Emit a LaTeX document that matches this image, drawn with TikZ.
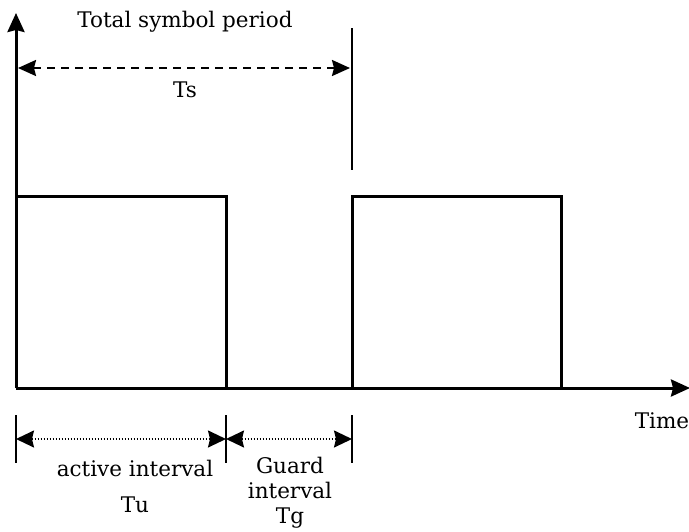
\documentclass[tikz,border=0pt]{standalone}
\usepackage{fontspec}
\setmainfont{DejaVu Serif}
\usetikzlibrary{arrows.meta,positioning}

\begin{document}
\begin{tikzpicture}[
    x=1pt, y=-1pt,
    every node/.style={font=\fontsize{21.5}{25}\selectfont, align=center, inner sep=1pt},
    axis/.style={line width=3pt, -{Stealth[length=19pt, width=17pt, inset=2pt]}},
    pulse/.style={line width=3pt},
    tick/.style={line width=2.8pt},
    span/.style={line width=2.2pt, dash pattern=on 8pt off 6pt,
                 {Stealth[length=18pt, width=16pt, inset=2pt]}-{Stealth[length=18pt, width=16pt, inset=2pt]}},
    subspan/.style={line width=1.8pt, dash pattern=on 1.5pt off 1.5pt,
                 {Stealth[length=18pt, width=17pt, inset=2pt]}-{Stealth[length=18pt, width=17pt, inset=2pt]}}
]
\useasboundingbox (0,0) rectangle (689,531);

% axes
\coordinate (origin) at (16,388);
\coordinate (ytop) at (16,13);
\coordinate (xend) at (690,388);
\draw[axis] (origin) -- (ytop);
\draw[axis] (origin) -- (xend);

% pulses
\draw[pulse] (origin) |- (226,196) -- (226,388);
\draw[pulse] (352,388) |- (561,196) -- (561,388);

% total symbol period
\coordinate (tsl) at (18,68);
\coordinate (tsr) at (350,68);
\draw[tick] (352,28) -- (352,170);
\draw[span] (tsl) -- (tsr);
\node (total) at (185,22) {Total symbol period};
\node (ts) at (185,90) {Ts};

% active / guard intervals
\foreach \x/\n in {16/ta, 226/tb, 352/tc}{
    \draw[tick] (\x,415) -- (\x,463);
    \coordinate (\n) at (\x,439);
}
\draw[subspan] (ta) -- (tb);
\draw[subspan] (tb) -- (tc);
\node (active) at (135,468) {active interval};
\node (tu) at (135,505) {Tu};
\node (guard) at (290,493) {Guard\\interval\\Tg};

\node (time) at (662,421) {Time};
\end{tikzpicture}
\end{document}
